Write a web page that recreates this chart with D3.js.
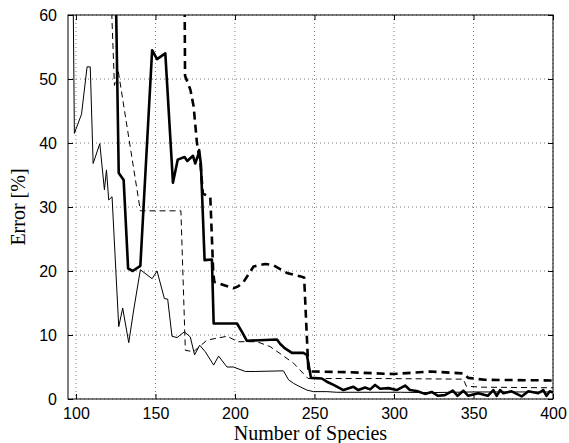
<!DOCTYPE html>
<html>
<head>
<meta charset="utf-8">
<script src="https://cdn.jsdelivr.net/npm/d3@7"></script>
<style>
  body { margin: 0; background: #fff; }
  svg { display: block; }
</style>
</head>
<body>
<svg id="chart" width="569" height="443"></svg>
<script>
// ---- data ----
const xTicks = [100, 150, 200, 250, 300, 350, 400];
const yTicks = [0, 10, 20, 30, 40, 50, 60];
const xLabel = "Number of Species";
const yLabel = "Error [%]";

// thin solid
const thinSolidX = [98, 99, 103.5, 107, 109, 110.8, 115, 117.9, 119.2, 120.6, 122.7, 126.9, 129.4, 133.2, 136.3, 140.5, 147.9, 151, 155.6, 157.7, 160.4, 163.6, 168.2, 171.9, 174.6, 177.8, 181.3, 186.6, 189.7, 195, 199, 206.5, 212.7, 230.5, 233.7, 236.8, 241, 245.2, 249.4, 257.8, 264, 290, 304, 323, 350, 400];
const thinSolidY = [70, 41.5, 44.5, 51.9, 51.9, 36.8, 39.9, 32.7, 35.8, 31.1, 31.6, 11.3, 14.2, 8.8, 13.9, 20.2, 18.8, 20, 15.7, 15.6, 9.8, 9.6, 10.5, 9.7, 6.9, 8.4, 7.4, 5.3, 6.7, 5.0, 5.0, 4.3, 4.3, 4.4, 3.0, 2.45, 1.9, 1.4, 1.15, 1.15, 1.05, 1.05, 1.05, 1.0, 1.1, 1.1];

// thin dashed
const thinDashX = [121.8, 124.2, 126.5, 140.5, 166, 168.8, 174, 182.4, 195, 202, 213.8, 222, 228.4, 236.8, 246, 253.6, 291, 343.6, 345.5, 355, 400];
const thinDashY = [65, 49, 51.4, 29.4, 29.4, 7.6, 7.4, 9.2, 9.8, 8.95, 8.95, 8.2, 7.1, 5.6, 3.2, 3.2, 3.2, 3.1, 2.0, 1.85, 1.75];

// thick solid
const thickSolidX = [125, 126.9, 130, 132.8, 135.7, 140.5, 147.9, 151, 156.2, 161, 164, 168.3, 170, 173.6, 175, 176.8, 177.5, 178.6, 180.9, 185.5, 186.6, 201.3, 204.4, 207.5, 226.4, 228.5, 231, 235.8, 243, 245.2, 247.8, 254.6, 257.8, 262, 268.2, 274.5, 277.6, 281.8, 285, 288.1, 291.3, 296.5, 301.7, 307, 310, 314.3, 319.5, 323.7, 327.7, 332, 337, 340, 343.6, 346.7, 353, 359, 362.5, 364.6, 366.7, 368.8, 374, 380.3, 384.5, 390.7, 393.9, 395.9, 398, 400];
const thickSolidY = [65, 35.3, 34.2, 20.4, 20, 20.8, 54.5, 53.1, 54, 33.8, 37.4, 37.8, 37.2, 38, 36.8, 38.1, 38.9, 36.6, 21.7, 21.8, 11.8, 11.8, 10.5, 9.1, 9.3, 8.6, 8.0, 7.2, 7.2, 6.9, 3.3, 3.2, 2.7, 2.2, 1.4, 1.9, 1.4, 1.8, 1.5, 2.2, 1.6, 1.7, 1.4, 2.1, 1.4, 1.25, 0.8, 1.1, 0.5, 0.6, 1.3, 0.5, 1.3, 0.5, 0.9, 0.5, 1.4, 0.5, 1.4, 0.9, 1.2, 0.4, 1.2, 0.9, 1.4, 0.5, 1.2, 1.0];

// thick dashed
const thickDashX = [168.3, 168.6, 172, 174, 176.1, 178.2, 179.8, 184.5, 186.3, 187, 192.8, 199, 202, 205.4, 211.7, 219, 224.2, 232.7, 242, 243.5, 246.2, 249.4, 270, 299.6, 322.7, 343.6, 346.7, 357, 400];
const thickDashY = [65, 50.5, 48.3, 45.7, 40, 37, 32.1, 31.5, 20, 18.3, 17.8, 17.3, 17.6, 18.3, 20.7, 21.1, 20.9, 19.7, 19.1, 19.0, 4.3, 4.3, 4.2, 3.9, 4.3, 4.0, 3.3, 3.0, 2.9];

// ---- layout ----
const W = 569, H = 443;
const margin = { left: 68, right: 16, top: 15, bottom: 44 };
const iw = W - margin.left - margin.right;
const ih = H - margin.top - margin.bottom;

const svg = d3.select("#chart");
const g = svg.append("g").attr("transform", `translate(${margin.left},${margin.top})`);

const x = d3.scaleLinear().domain([95, 400]).range([0, iw]);
const y = d3.scaleLinear().domain([0, 60]).range([ih, 0]);

// clip
svg.append("defs").append("clipPath").attr("id", "clip")
  .append("rect").attr("x", 0).attr("y", 0).attr("width", iw).attr("height", ih);

// grid
const grid = g.append("g").attr("class", "grid");
grid.selectAll("line.gx").data(xTicks).join("line")
  .attr("x1", d => x(d)).attr("x2", d => x(d))
  .attr("y1", 0).attr("y2", ih)
  .attr("stroke", "#777").attr("stroke-width", 1).attr("stroke-dasharray", "1,3");
grid.selectAll("line.gy").data(yTicks).join("line")
  .attr("x1", 0).attr("x2", iw)
  .attr("y1", d => y(d)).attr("y2", d => y(d))
  .attr("stroke", "#777").attr("stroke-width", 1).attr("stroke-dasharray", "1,3");

// series
const series = [
  { xs: thinSolidX, ys: thinSolidY, w: 1, dash: null },
  { xs: thinDashX, ys: thinDashY, w: 1, dash: "6,4" },
  { xs: thickDashX, ys: thickDashY, w: 2.6, dash: "8,5" },
  { xs: thickSolidX, ys: thickSolidY, w: 2.6, dash: null }
];
const line = d3.line().x(d => x(d[0])).y(d => y(d[1]));
const lines = g.append("g").attr("clip-path", "url(#clip)");
series.forEach(s => {
  const pts = s.xs.map((v, i) => [v, s.ys[i]]);
  lines.append("path").datum(pts)
    .attr("d", line)
    .attr("fill", "none")
    .attr("stroke", "#000")
    .attr("stroke-width", s.w)
    .attr("stroke-linejoin", "round")
    .attr("stroke-dasharray", s.dash);
});

// axes (inward ticks, box)
const tickFont = "'Liberation Sans', Arial, Helvetica, sans-serif";
const xAxisB = d3.axisBottom(x).tickValues(xTicks).tickSizeInner(-5).tickSizeOuter(0).tickPadding(9);
const yAxisL = d3.axisLeft(y).tickValues(yTicks).tickSizeInner(-5).tickSizeOuter(0).tickPadding(11);
const xAxisT = d3.axisTop(x).tickValues(xTicks).tickSizeInner(-5).tickSizeOuter(0).tickFormat("");
const yAxisR = d3.axisRight(y).tickValues(yTicks).tickSizeInner(-5).tickSizeOuter(0).tickFormat("");

function styleAxis(sel) {
  sel.select(".domain").remove();
  sel.selectAll(".tick line").attr("stroke", "#000");
  sel.selectAll(".tick text").attr("fill", "#000").style("font-family", tickFont).style("font-size", "16px");
}
g.append("g").attr("transform", `translate(0,${ih})`).call(xAxisB).call(styleAxis);
g.append("g").call(yAxisL).call(styleAxis);
g.append("g").call(xAxisT).call(styleAxis);
g.append("g").attr("transform", `translate(${iw},0)`).call(yAxisR).call(styleAxis);

g.append("rect").attr("x", 0).attr("y", 0).attr("width", iw).attr("height", ih)
  .attr("fill", "none").attr("stroke", "#000").attr("stroke-width", 1);

// labels
const serif = "'Liberation Serif', 'Times New Roman', Times, serif";
svg.append("text")
  .attr("x", margin.left + iw / 2).attr("y", 440)
  .attr("text-anchor", "middle")
  .style("font-family", serif).style("font-size", "20px")
  .text(xLabel);
svg.append("text")
  .attr("transform", `translate(25,${margin.top + ih / 2}) rotate(-90)`)
  .attr("text-anchor", "middle")
  .style("font-family", serif).style("font-size", "20px")
  .text(yLabel);
</script>
</body>
</html>
